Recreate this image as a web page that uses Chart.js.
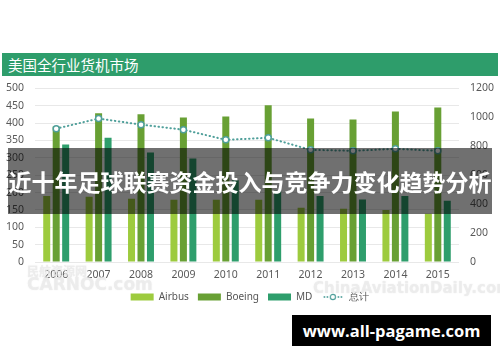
<!DOCTYPE html>
<html lang="zh">
<head>
  <meta charset="UTF-8">
  <title>美国全行业货机市场</title>
  <script src="https://cdn.jsdelivr.net/npm/chart.js"></script>
  <style>
    html, body {
      margin: 0;
      padding: 0;
      background: #ffffff;
    }
    .stage {
      position: relative;
      width: 500px;
      height: 362px;
      overflow: hidden;
      background: #ffffff;
      font-family: "Noto Sans", "Noto Sans CJK SC", sans-serif;
    }
    .title-bar {
      position: absolute;
      left: 2px;
      top: 53px;
      width: 496px;
      height: 23px;
      background: #2e9d6b;
      color: #ffffff;
      font-family: "Noto Sans CJK SC", sans-serif;
      font-size: 14.5px;
      line-height: 23px;
      padding-left: 6px;
      box-sizing: border-box;
    }
    #chartWrap {
      position: absolute;
      left: 0;
      top: 71px;
      width: 500px;
      height: 241px;
    }
    .mark {
      position: absolute;
      color: rgba(240, 240, 240, 0.7);
      font-weight: bold;
      text-shadow: 0 0 1px rgba(200, 200, 200, 0.5);
      white-space: nowrap;
    }
    .band {
      position: absolute;
      left: 8px;
      top: 148px;
      width: 484px;
      height: 66px;
      background: rgba(0, 0, 0, 0.56);
      color: #ffffff;
      font-family: "Noto Sans CJK SC", sans-serif;
      font-weight: bold;
      font-size: 23px;
      line-height: 66px;
      text-align: center;
      white-space: nowrap;
    }
    .site {
      position: absolute;
      left: 292px;
      top: 315px;
      width: 199px;
      height: 31px;
      background: #000000;
      color: #ffffff;
      font-family: "Open Sans", "DejaVu Sans", sans-serif;
      font-weight: bold;
      font-size: 16.5px;
      line-height: 31px;
      text-align: center;
    }
  </style>
</head>
<body>
  <div class="stage">
    <div id="chartWrap"><canvas id="chart" width="500" height="241"></canvas></div>
    <div class="title-bar">美国全行业货机市场</div>
    <div class="mark" style="left:27px;top:262px;font-size:12px;font-family:'Noto Sans CJK SC';">民航资源网</div>
    <div class="mark" style="left:27px;top:274px;font-size:17px;font-family:'DejaVu Sans';">CARNOC.com</div>
    <div class="mark" style="left:313px;top:279px;font-size:15px;font-family:'DejaVu Sans';">ChinaAviationDaily.com</div>
    <div class="band">近十年足球联赛资金投入与竞争力变化趋势分析</div>
    <div class="site">www.all-pagame.com</div>
  </div>

  <script>
    const years = ['2006', '2007', '2008', '2009', '2010', '2011', '2012', '2013', '2014', '2015'];
    const airbus = [190, 188, 182, 179, 179, 179, 156, 153, 150, 139];
    const boeing = [390, 428, 425, 416, 419, 451, 413, 410, 433, 445];
    const md = [338, 358, 315, 298, 235, 205, 190, 180, 190, 176];
    const total = [921, 991, 949, 914, 844, 858, 775, 768, 782, 768];

    const lineColor = '#4f9f9a';
    const tickFont = { family: 'Noto Sans', size: 10.5 };

    // little "··o··" icon for the line entry in the legend
    const lineIcon = document.createElement('canvas');
    lineIcon.width = 20;
    lineIcon.height = 8;
    (function () {
      const c = lineIcon.getContext('2d');
      c.fillStyle = lineColor;
      [1.5, 4.5, 15.5, 18.5].forEach(x => {
        c.beginPath();
        c.arc(x, 4, 0.9, 0, Math.PI * 2);
        c.fill();
      });
      c.beginPath();
      c.arc(10, 4, 2.6, 0, Math.PI * 2);
      c.fillStyle = '#ffffff';
      c.fill();
      c.lineWidth = 1.2;
      c.strokeStyle = lineColor;
      c.stroke();
    })();

    const ctx = document.getElementById('chart').getContext('2d');
    new Chart(ctx, {
      data: {
        labels: years,
        datasets: [
          { type: 'bar', label: 'Airbus', data: airbus, backgroundColor: '#9dcb3e', yAxisID: 'y', order: 1 },
          { type: 'bar', label: 'Boeing', data: boeing, backgroundColor: '#68a034', yAxisID: 'y', order: 1 },
          { type: 'bar', label: 'MD', data: md, backgroundColor: '#2e9e6c', yAxisID: 'y', order: 1 },
          {
            type: 'line', label: '总计', data: total, yAxisID: 'y1', order: 0,
            borderColor: lineColor, borderWidth: 2, borderDash: [0.5, 3.5], borderCapStyle: 'round',
            pointRadius: 3, pointBackgroundColor: '#ffffff', pointBorderColor: lineColor, pointBorderWidth: 1.5,
            tension: 0, fill: false
          }
        ]
      },
      options: {
        responsive: false,
        animation: false,
        layout: { padding: { top: 2, bottom: 0, left: 0, right: 0 } },
        datasets: {
          bar: { categoryPercentage: 0.67, barPercentage: 0.74 }
        },
        plugins: {
          tooltip: { enabled: false },
          legend: {
            position: 'bottom',
            labels: {
              usePointStyle: true,
              pointStyleWidth: 23,
              boxHeight: 7,
              padding: 9,
              color: '#555555',
              font: { family: 'Noto Sans', size: 10 },
              generateLabels(chart) {
                const items = Chart.defaults.plugins.legend.labels.generateLabels(chart);
                items.sort((a, b) => a.datasetIndex - b.datasetIndex);
                items.forEach(it => {
                  if (it.datasetIndex < 3) {
                    it.pointStyle = 'rect';
                    it.lineWidth = 0;
                    it.strokeStyle = it.fillStyle;
                  } else {
                    it.pointStyle = lineIcon;
                  }
                });
                return items;
              }
            }
          }
        },
        scales: {
          x: {
            grid: { display: false, drawTicks: false },
            border: { display: false },
            ticks: { color: '#595959', font: tickFont, padding: 7 },
            afterFit(scale) { scale.height = 21; }
          },
          y: {
            position: 'left',
            min: 0,
            max: 500,
            ticks: { stepSize: 50, color: '#595959', font: tickFont, padding: 11 },
            grid: { color: '#e8e8e8', drawTicks: false },
            border: { display: false },
            afterFit(scale) { scale.width = 35; }
          },
          y1: {
            position: 'right',
            min: 0,
            max: 1200,
            ticks: { stepSize: 200, color: '#595959', font: tickFont, padding: 11, callback: v => String(v) },
            grid: { display: false, drawTicks: false },
            border: { display: false },
            afterFit(scale) { scale.width = 41; }
          }
        }
      }
    });
  </script>
</body>
</html>
